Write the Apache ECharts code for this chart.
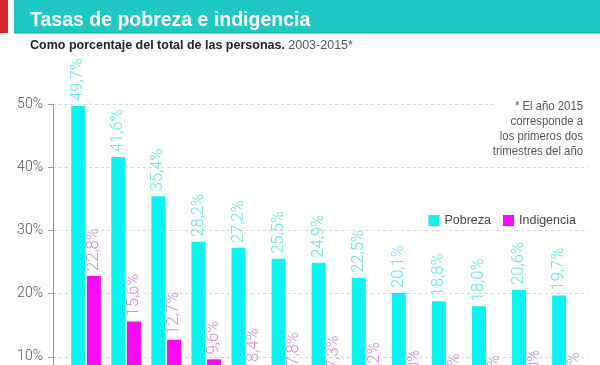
<!DOCTYPE html>
<html><head><meta charset="utf-8">
<script src="https://cdn.jsdelivr.net/npm/echarts@6/dist/echarts.min.js"></script>
<style>html,body{margin:0;padding:0;background:#fff}#c{width:600px;height:365px}</style>
</head><body><div id="c"></div>
<script>
const years = ['2003','2004','2005','2006','2007','2008','2009','2010','2011','2012','2013','2014','2015'];
const pobreza = [49.7, 41.6, 35.4, 28.2, 27.2, 25.5, 24.9, 22.5, 20.1, 18.8, 18.0, 20.6, 19.7];
const indigencia = [22.8, 15.6, 12.7, 9.6, 8.4, 7.8, 7.3, 6.2, 5.0, 4.4, 4.2, 5.0, 4.6];
const yTicks = [0, 10, 20, 30, 40, 50];

const light = 'Roboto, "Liberation Sans", sans-serif';
const sans = '"Liberation Sans", Arial, sans-serif';
const fmt = v => String(v.toFixed(1)).replace('.', ',') + '%';

const chart = echarts.init(document.getElementById('c'), null, {renderer: 'canvas'});
chart.setOption({
  animation: false,
  backgroundColor: '#fff',
  title: {
    text: 'Tasas de pobreza e indigencia',
    left: 25, top: 6,
    textStyle: {color: '#fff', fontFamily: sans, fontWeight: 'bold', fontSize: 19.5}
  },
  graphic: [
    {type: 'rect', left: 0, top: 0, z: -1, shape: {width: 8, height: 33}, style: {fill: '#d9262c'}},
    {type: 'rect', left: 14, top: 0, z: -1, shape: {width: 586, height: 33}, style: {fill: '#1fc8c4'}},
    {type: 'rect', left: 14, top: 32, z: -1, shape: {width: 586, height: 1.5}, style: {fill: '#18b3ae'}},
    {type: 'text', left: 30, top: 39, style: {
      text: '{b|Como porcentaje del total de las personas.} {n|2003-2015*}',
      rich: {
        b: {fontFamily: sans, fontWeight: 'bold', fontSize: 12.5, fill: '#222'},
        n: {fontFamily: sans, fontSize: 12.5, fill: '#555'}
      }
    }},
    {type: 'rect', x: 494, y: 99, z: 10, shape: {width: 94, height: 12}, style: {fill: '#fff'}},
    {type: 'text', x: 583, y: 99, z: 11, scaleX: 0.84, originX: 0, originY: 0,
      style: {
        text: '* El año 2015\ncorresponde a\nlos primeros dos\ntrimestres del año',
        fontFamily: sans, fontSize: 13.5, lineHeight: 15, fill: '#555', align: 'right', textAlign: 'right'
      }}
  ],
  legend: {
    data: ['Pobreza', 'Indigencia'],
    right: 19, top: 209,
    itemWidth: 11, itemHeight: 11, itemGap: 12,
    icon: 'rect',
    textStyle: {fontFamily: sans, fontSize: 12.5, color: '#444'}
  },
  grid: [
    {left: 53, right: 12, top: 104, height: 316, outerBoundsMode: 'none'},
    {left: 66, right: 13, top: 104, height: 316, outerBoundsMode: 'none'}
  ],
  xAxis: [
    {gridIndex: 0, type: 'value', show: false, min: 0, max: 1},
    {gridIndex: 1, type: 'category', data: years, axisLine: {show: false}, axisTick: {show: false}, axisLabel: {show: false}}
  ],
  yAxis: [
    {gridIndex: 0, type: 'value', min: 0, max: 50, interval: 10,
      axisLine: {show: true, lineStyle: {color: '#999', width: 1}},
      axisTick: {show: true, inside: false, length: 5, lineStyle: {color: '#999'}},
      axisLabel: {formatter: v => v + '%', color: '#555', fontFamily: light, fontWeight: 300, fontSize: 14, margin: 10},
      splitLine: {show: true, lineStyle: {color: '#d6d6d6', type: [3, 3], width: 1}}
    },
    {gridIndex: 1, type: 'value', min: 0, max: 50, interval: 10, show: false, splitLine: {show: false}}
  ],
  series: [
    {name: 'Pobreza', type: 'bar', xAxisIndex: 1, yAxisIndex: 1, data: pobreza,
      barWidth: 14, barGap: '12%',
      itemStyle: {color: '#0ef3f0'},
      label: {show: true, position: 'top', rotate: 90, align: 'left', verticalAlign: 'middle', distance: 5,
        formatter: p => fmt(p.value), color: '#6ee0e8', fontFamily: light, fontWeight: 300, fontSize: 16.5}
    },
    {name: 'Indigencia', type: 'bar', xAxisIndex: 1, yAxisIndex: 1, data: indigencia,
      barWidth: 14, barGap: '12%',
      itemStyle: {color: '#f50cf0'},
      label: {show: true, position: 'top', rotate: 90, align: 'left', verticalAlign: 'middle', distance: 5,
        formatter: p => fmt(p.value), color: '#dc82e4', fontFamily: light, fontWeight: 300, fontSize: 16.5}
    }
  ]
});
</script></body></html>
